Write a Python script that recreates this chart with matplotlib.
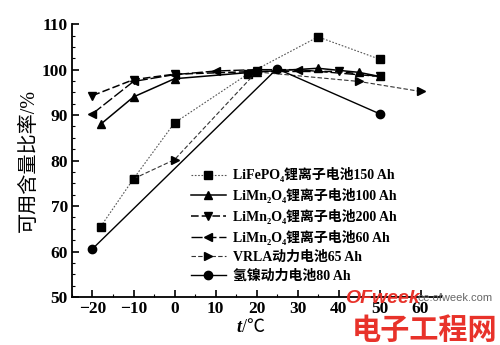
import matplotlib.pyplot as plt
from matplotlib.ticker import MultipleLocator

plt.rcParams['font.family'] = ['Liberation Serif', 'Noto Sans CJK SC', 'DejaVu Sans']

# capacity ratio (%) vs temperature (C) for each battery type
lfp_t = [-18, -10, 0, 18, 35, 50]
lfp_v = [65.5, 76, 88.3, 99.1, 107.2, 102.3]

lmo100_t = [-18, -10, 0, 20, 35, 45, 50]
lmo100_v = [88, 94, 98, 99.5, 100.3, 99.4, 98.5]

lmo200_t = [-20, -10, 0, 20, 40, 50]
lmo200_v = [94.3, 97.8, 99, 99.6, 99.6, 98.5]

lmo60_t = [-20, -10, 0, 10, 20, 30, 50]
lmo60_v = [90.3, 97.4, 98.9, 99.7, 100, 100, 98.5]

vrla_t = [-10, 0, 20, 45, 60]
vrla_v = [76, 80.2, 99.5, 97.4, 95.2]

nimh_t = [-20, 25, 50]
nimh_v = [60.6, 100.2, 90.3]

labels = [
    'LiFePO₄锂离子电池150 Ah',
    'LiMn₂O₄锂离子电池100 Ah',
    'LiMn₂O₄锂离子电池200 Ah',
    'LiMn₂O₄锂离子电池60 Ah',
    'VRLA动力电池65 Ah',
    '氢镍动力电池80 Ah',
]

xticks = [-20, -10, 0, 10, 20, 30, 40, 50, 60]
xticklabels = ['\u221220', '\u221210', '0', '10', '20', '30', '40', '50', '60']

fig = plt.figure(figsize=(5, 3.45), dpi=100)
ax = fig.add_axes([0.144, 0.139, 0.738, 0.791])

ax.plot(lfp_t, lfp_v, color='#555555', ls=(0, (1.5, 1.5)), lw=0.8,
        marker='s', ms=5.5, mfc='black', mec='black', label=labels[0])
ax.plot(lmo100_t, lmo100_v, color='black', ls='-', lw=1.1,
        marker='^', ms=6, mfc='black', mec='black', label=labels[1])
ax.plot(lmo200_t, lmo200_v, color='black', ls=(0, (5, 2)), lw=1.1,
        marker='v', ms=6, mfc='black', mec='black', label=labels[2])
ax.plot(lmo60_t, lmo60_v, color='black', ls=(0, (8, 2)), lw=1.0,
        marker='<', ms=6, mfc='black', mec='black', label=labels[3])
ax.plot(vrla_t, vrla_v, color='#333333', ls=(0, (4, 2)), lw=0.8,
        marker='>', ms=6, mfc='black', mec='black', label=labels[4])
ax.plot(nimh_t, nimh_v, color='black', ls='-', lw=1.0,
        marker='o', ms=6, mfc='black', mec='black', label=labels[5])

ax.set_xlim(-25, 65)
ax.set_ylim(50, 110)
ax.yaxis.set_major_locator(MultipleLocator(10))
ax.yaxis.set_minor_locator(MultipleLocator(2.5))
ax.xaxis.set_minor_locator(MultipleLocator(5))
ax.set_xticks(xticks)
ax.set_xticklabels(xticklabels)

for s in ['top', 'right']:
    ax.spines[s].set_visible(False)
for s in ['left', 'bottom']:
    ax.spines[s].set_linewidth(1.3)

ax.tick_params(direction='in', length=5, width=1.2, labelsize=12.5, pad=3)
ax.tick_params(which='minor', direction='in', length=2.5, width=0.8)
for lb in ax.get_xticklabels() + ax.get_yticklabels():
    lb.set_fontweight('bold')

ax.set_ylabel('可用含量比率/%', fontsize=14.5, labelpad=2)

# x label: italic t, then the unit
fig.text(0.482, 0.025, 't', fontsize=13, fontweight='bold', style='italic',
         ha='right', va='bottom')
fig.text(0.484, 0.025, '/℃', fontsize=13, ha='left', va='bottom')

leg = ax.legend(loc='upper left', bbox_to_anchor=(0.315, 0.485), frameon=True,
                framealpha=1, edgecolor='white', fontsize=10, handlelength=2.5,
                labelspacing=0.42, borderpad=0.2, handletextpad=0.5,
                borderaxespad=0)
for t in leg.get_texts():
    t.set_fontweight('bold')

# site watermark in the lower right corner
fig.text(0.69, 0.122, 'OFweek', color='#e8322a', fontsize=14, fontweight='bold',
         style='italic', family=['Liberation Sans'])
fig.text(0.834, 0.128, 'ee.ofweek.com', color='#666666', fontsize=8,
         family=['Liberation Sans'])
fig.text(0.995, 0.0, '电子工程网', color='#e8322a', fontsize=21, fontweight='bold',
         ha='right', va='bottom', family=['Noto Sans CJK SC'])

fig.savefig('out.png', dpi=100)
